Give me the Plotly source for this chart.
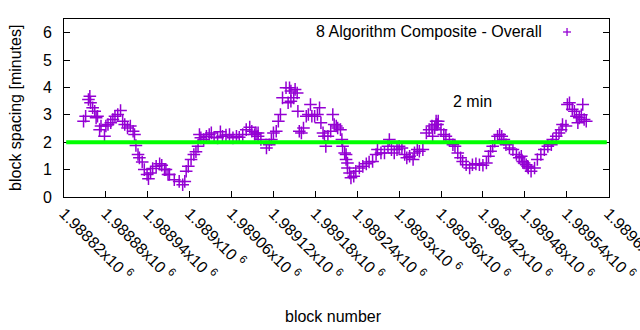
import plotly.graph_objects as go

# block numbers and spacing [minutes]
blocks = [
    1988848, 1988851, 1988855, 1988857, 1988858, 1988861, 1988864, 1988866, 1988868, 1988871,
    1988873, 1988878, 1988880, 1988883, 1988887, 1988890, 1988893, 1988897, 1988901, 1988904,
    1988907, 1988911, 1988915, 1988919, 1988921, 1988923, 1988926, 1988928, 1988932, 1988935,
    1988939, 1988941, 1988944, 1988947, 1988952, 1988957, 1988960, 1988964, 1988966, 1988969,
    1988971, 1988978, 1988985, 1988990, 1988993, 1988995, 1988998, 1989002, 1989006, 1989009,
    1989012, 1989014, 1989016, 1989020, 1989024, 1989028, 1989031, 1989035, 1989040, 1989044,
    1989047, 1989052, 1989057, 1989062, 1989067, 1989071, 1989076, 1989081, 1989086, 1989089,
    1989093, 1989095, 1989098, 1989098, 1989102, 1989110, 1989114, 1989117, 1989120, 1989124,
    1989127, 1989130, 1989133, 1989138, 1989141, 1989143, 1989145, 1989145, 1989149, 1989151,
    1989154, 1989155, 1989157, 1989160, 1989163, 1989167, 1989170, 1989173, 1989175, 1989179,
    1989183, 1989186, 1989188, 1989191, 1989193, 1989195, 1989198, 1989202, 1989205, 1989207,
    1989210, 1989212, 1989216, 1989218, 1989219, 1989222, 1989224, 1989224, 1989226, 1989226,
    1989229, 1989231, 1989235, 1989238, 1989243, 1989248, 1989253, 1989257, 1989262, 1989267,
    1989269, 1989274, 1989279, 1989284, 1989286, 1989289, 1989293, 1989297, 1989300, 1989304,
    1989308, 1989311, 1989315, 1989320, 1989322, 1989326, 1989329, 1989334, 1989339, 1989343,
    1989347, 1989348, 1989351, 1989353, 1989353, 1989355, 1989356, 1989360, 1989364, 1989367,
    1989372, 1989377, 1989380, 1989384, 1989388, 1989391, 1989396, 1989401, 1989405, 1989410,
    1989415, 1989420, 1989425, 1989428, 1989431, 1989434, 1989437, 1989441, 1989444, 1989447,
    1989450, 1989453, 1989458, 1989463, 1989468, 1989472, 1989475, 1989477, 1989479, 1989482,
    1989484, 1989485, 1989489, 1989494, 1989498, 1989503, 1989508, 1989513, 1989518, 1989520,
    1989525, 1989529, 1989532, 1989534, 1989539, 1989541, 1989544, 1989548, 1989551, 1989554,
    1989556, 1989558, 1989561, 1989563, 1989565, 1989568,
]
spacing = [
    2.77, 2.95, 3.56, 3.68, 3.44, 3.26, 3.13, 2.89, 2.95, 2.46,
    2.59, 2.22, 2.59, 2.65, 2.71, 2.83, 2.95, 3.01, 3.16, 2.77,
    2.65, 2.52, 2.59, 2.40, 2.28, 1.88, 1.55, 1.43, 1.28, 1.00,
    0.82, 0.67, 0.88, 1.04, 1.12, 1.21, 1.16, 1.00, 1.00, 0.82,
    0.82, 0.63, 0.57, 0.45, 0.57, 0.94, 1.12, 1.37, 1.55, 1.65,
    1.85, 2.28, 2.16, 2.10, 2.22, 2.28, 2.34, 2.18, 2.16, 2.38,
    2.22, 2.26, 2.28, 2.16, 2.22, 2.18, 2.28, 2.46, 2.55, 2.40,
    2.28, 2.34, 2.34, 2.22, 2.10, 1.79, 1.91, 2.10, 2.34, 2.40,
    2.77, 3.01, 3.62, 3.99, 3.44, 3.99, 3.87, 3.50, 3.62, 3.93,
    3.80, 3.13, 2.40, 2.34, 2.52, 2.95, 3.01, 3.38, 2.95, 2.95,
    3.01, 3.26, 2.71, 2.34, 2.22, 1.85, 2.22, 2.40, 3.01, 2.65,
    2.59, 2.52, 2.46, 2.10, 1.85, 1.61, 1.37, 1.55, 1.06, 1.24,
    0.88, 0.70, 0.76, 0.94, 1.06, 1.12, 1.21, 1.28, 1.30, 1.55,
    1.73, 1.61, 1.61, 1.85, 2.10, 1.73, 1.61, 1.73, 1.85, 1.79,
    1.55, 1.43, 1.49, 1.37, 1.61, 1.73, 1.67, 1.73, 2.34, 2.46,
    2.59, 2.22, 2.52, 2.77, 2.65, 2.65, 2.77, 2.46, 2.28, 2.22,
    2.10, 1.91, 1.85, 1.61, 1.43, 1.30, 1.18, 1.06, 1.18, 1.21,
    1.18, 1.16, 1.24, 1.49, 1.67, 1.85, 2.04, 2.22, 2.28, 2.22,
    2.10, 1.91, 1.79, 1.73, 1.55, 1.43, 1.49, 1.30, 1.24, 1.18,
    1.12, 1.06, 0.94, 1.06, 1.37, 1.55, 1.73, 1.85, 1.91, 2.10,
    2.22, 2.34, 2.46, 2.65, 2.59, 3.38, 3.44, 3.20, 3.13, 2.95,
    2.71, 2.89, 3.00, 3.38, 2.83, 2.77,
]

x_tick_values = [1988820, 1988880, 1988940, 1989000, 1989060, 1989120, 1989180,
                 1989240, 1989300, 1989360, 1989420, 1989480, 1989540, 1989600]
x_tick_labels = ["1.98882x10 <sup>6</sup>", "1.98888x10 <sup>6</sup>", "1.98894x10 <sup>6</sup>",
                 "1.989x10 <sup>6</sup>", "1.98906x10 <sup>6</sup>", "1.98912x10 <sup>6</sup>",
                 "1.98918x10 <sup>6</sup>", "1.98924x10 <sup>6</sup>", "1.9893x10 <sup>6</sup>",
                 "1.98936x10 <sup>6</sup>", "1.98942x10 <sup>6</sup>", "1.98948x10 <sup>6</sup>",
                 "1.98954x10 <sup>6</sup>", "1.9896x10 <sup>6</sup>"]
y_tick_values = [0, 1, 2, 3, 4, 5, 6]
target_minutes = 2
series_name = "8 Algorithm Composite - Overall"

FONT = "Liberation Sans, Arial, sans-serif"
PURPLE = "#9400d3"

fig = go.Figure()
fig.add_trace(go.Scatter(
    x=blocks, y=spacing, mode="markers", name=series_name,
    marker=dict(symbol="cross-thin", size=9, color=PURPLE,
                line=dict(color=PURPLE, width=1.5)),
    showlegend=False, cliponaxis=False,
))

fig.add_shape(type="line", xref="paper", yref="y", x0=0.004, x1=0.996,
              y0=target_minutes, y1=target_minutes,
              line=dict(color="#00ff00", width=4), layer="above")

# key: text then sample marker (gnuplot style)
fig.add_annotation(xref="paper", yref="paper", x=0.8808, y=0.927, text=series_name,
                   showarrow=False, xanchor="right", yanchor="middle",
                   font=dict(family=FONT, size=16, color="black"))
kx, ky, hw, hh = 0.923, 0.927, 4 / 545, 4 / 178
fig.add_shape(type="line", xref="paper", yref="paper", x0=kx - hw, x1=kx + hw, y0=ky, y1=ky,
              line=dict(color=PURPLE, width=1.3))
fig.add_shape(type="line", xref="paper", yref="paper", x0=kx, x1=kx, y0=ky - hh, y1=ky + hh,
              line=dict(color=PURPLE, width=1.3))

fig.add_annotation(xref="x", yref="y", x=1989375, y=3.47, text="2 min",
                   showarrow=False, xanchor="left", yanchor="middle",
                   font=dict(family=FONT, size=16, color="black"))

fig.add_annotation(xref="paper", yref="paper", x=-0.09, y=0.5,
                   text="block spacing [minutes]", textangle=-90, showarrow=False,
                   xanchor="center", yanchor="middle",
                   font=dict(family=FONT, size=16, color="black"))
fig.add_annotation(xref="paper", yref="paper", x=0.4954, y=-0.669,
                   text="block number", showarrow=False,
                   xanchor="center", yanchor="middle",
                   font=dict(family=FONT, size=16, color="black"))

fig.update_layout(
    width=640, height=330,
    margin=dict(l=64, r=31, t=19, b=133),
    paper_bgcolor="white", plot_bgcolor="white",
    font=dict(family=FONT, size=16, color="black"),
    showlegend=False,
)
fig.update_xaxes(range=[1988820, 1989600.6], tickvals=x_tick_values, ticktext=x_tick_labels,
                 tickangle=45, ticks="inside", ticklen=6, tickcolor="black",
                 ticklabeloverflow="allow", automargin=False,
                 showline=True, linecolor="black", linewidth=1, mirror=True,
                 showgrid=False, zeroline=False)
fig.update_yaxes(range=[0, 6.5], tickvals=y_tick_values, ticks="inside", ticklen=6,
                 tickcolor="black", showline=True, linecolor="black", linewidth=1,
                 automargin=False,
                 mirror="ticks", showgrid=False, zeroline=False, ticklabelstandoff=8)

fig.write_html("out.html")
